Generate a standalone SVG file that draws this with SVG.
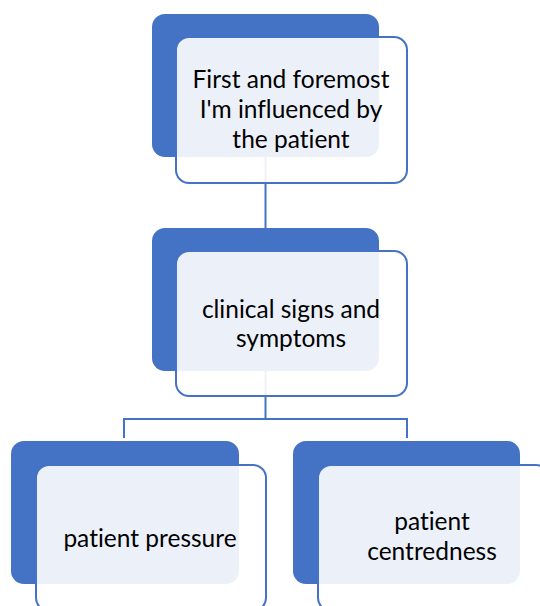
<svg xmlns="http://www.w3.org/2000/svg" width="540" height="606" viewBox="0 0 540 606">
<style>
.back{fill:#4472C4;}
.front{fill:#FFFFFF;fill-opacity:0.9;stroke:#4472C4;stroke-width:2;}
.lbl{font-family:Lato,"Liberation Sans",sans-serif;font-size:24.5px;fill:#000000;text-anchor:middle;font-variant-ligatures:none;}
.conn{fill:none;stroke:#4472C4;stroke-width:2;}
</style>
<rect width="540" height="606" fill="#FFFFFF"/>
<g id="connectors">
<path class="conn" d="M265.5,157 V228"/>
<path class="conn" d="M265.5,371 V419 M124,438 V419 H407 V438"/>
</g>
<g id="node1">
<rect class="back" x="152" y="14" width="227" height="143" rx="13"/>
<rect class="front" x="176" y="37" width="231" height="146" rx="13"/>
<text class="lbl" x="291" y="88">First and foremost</text>
<text class="lbl" x="291" y="118">I'm influenced by</text>
<text class="lbl" x="291" y="148">the patient</text>
</g>
<g id="node2">
<rect class="back" x="152" y="228" width="227" height="143" rx="13"/>
<rect class="front" x="176" y="251" width="231" height="145" rx="13"/>
<text class="lbl" x="291" y="318">clinical signs and</text>
<text class="lbl" x="291" y="347">symptoms</text>
</g>
<g id="node3">
<rect class="back" x="11" y="441" width="228" height="143" rx="13"/>
<rect class="front" x="36" y="465" width="230" height="146" rx="13"/>
<text class="lbl" x="150" y="547">patient pressure</text>
</g>
<g id="node4">
<rect class="back" x="293" y="441" width="227" height="143" rx="13"/>
<rect class="front" x="318" y="465" width="231" height="146" rx="13"/>
<text class="lbl" x="432" y="530">patient</text>
<text class="lbl" x="432" y="560">centredness</text>
</g>
</svg>
